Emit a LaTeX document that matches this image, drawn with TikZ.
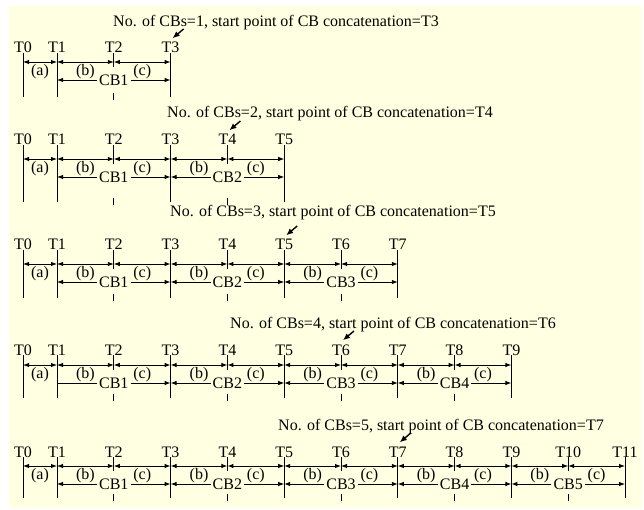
\documentclass[tikz,border=0pt]{standalone}
\usepackage{fontspec}
\setmainfont{Liberation Serif}
\usetikzlibrary{arrows.meta, calc}
\definecolor{paper}{RGB}{255,255,225}
\tikzset{
  tline/.style={line width=0.9pt},
  dimline/.style={line width=0.9pt, {Latex[length=6pt,width=4.5pt]}-{Latex[length=6pt,width=4.5pt]}},
  dimhead/.style={line width=0.9pt, -{Latex[length=6pt,width=4.5pt]}},
  plainline/.style={line width=0.9pt},
  pointer/.style={line width=1.4pt, -{Latex[length=7pt,width=6pt]}},
  tlabel/.style={anchor=base, inner sep=0pt},
  seglabel/.style={inner sep=0pt},
  cbtext/.style={inner sep=2pt},
  title/.style={anchor=base west, inner sep=0pt}
}
% #1 Pfeil links an CB1, #2 Anzahl CBs, #3 obere Reihe, #4 Grundlinie T-Beschriftung,
% #5 unteres Strichende, #6/#7 Ueberschrift
\newcommand{\cbblock}[7][dimhead]{
    \pgfmathtruncatemacro{\tlast}{2*#2+1}
    \pgfmathtruncatemacro{\tpen}{2*#2}
    \pgfmathtruncatemacro{\tstart}{#2+2}

    % Zeitpunkte T0 ... T(2n+1)
    \foreach \k in {0,...,\tlast} {
        \pgfmathsetmacro{\tpos}{\k==0 ? 23 : 0.2+56.8*\k}
        \coordinate (B#2T\k) at (\tpos,#3);
        \coordinate (B#2D\k) at (\tpos,#5);
        \node[tlabel] (B#2L\k) at (\tpos,#4) {T\k};
    }

    % Senkrechte Striche
    \foreach \k in {0,...,\tlast} {
        \pgfmathtruncatemacro{\kodd}{mod(\k,2)}
        \ifnum\k=0 \def\kodd{1}\fi
        \ifnum\kodd=1
            \draw[tline] (B#2L\k.base) -- (B#2D\k);
        \else
            \draw[tline] (B#2L\k.base) -- ([yshift=-5pt]B#2T\k);
            \draw[tline] ([yshift=4pt]B#2D\k) -- ([yshift=-3pt]B#2D\k);
        \fi
    }

    % obere Reihe (a), (b), (c)
    \foreach \k in {0,...,\tpen} {
        \pgfmathtruncatemacro{\knext}{\k+1}
        \pgfmathtruncatemacro{\kodd}{mod(\k,2)}
        \draw[dimline] (B#2T\k) -- (B#2T\knext);
        \ifnum\k=0 \def\segtext{(a)}\else\ifnum\kodd=1 \def\segtext{(b)}\else\def\segtext{(c)}\fi\fi
        \node[seglabel] (B#2S\k) at ($(B#2T\k)!0.5!(B#2T\knext)+(0,10)$) {\segtext};
    }

    % untere Reihe CB1 ... CBn
    \foreach \k in {1,3,...,\tlast} {
        \coordinate (B#2R\k) at ($(B#2T\k)+(0,18)$);
    }
    \foreach \j in {1,...,#2} {
        \pgfmathtruncatemacro{\cbmid}{2*\j}
        \pgfmathtruncatemacro{\cbleft}{2*\j-1}
        \pgfmathtruncatemacro{\cbright}{2*\j+1}
        \node[cbtext] (B#2CB\j) at ($(B#2T\cbmid)+(0,18)$) {CB\j};
        \ifnum\j=1
            \draw[#1] (B#2CB\j.west) -- (B#2R\cbleft);
        \else
            \draw[dimhead] (B#2CB\j.west) -- (B#2R\cbleft);
        \fi
        \draw[dimhead] (B#2CB\j.east) -- (B#2R\cbright);
    }

    % Ueberschrift mit Pfeil
    \node[title] (B#2title) at (#6,#7) {No. of CBs=#2, start point of CB concatenation=T\tstart};
    \coordinate (B#2P) at ($(B#2L\tstart.base)+(13,-24)$);
    \draw[pointer] (B#2P) -- ($(B#2L\tstart.north)+(2,-4)$);
}

\begin{document}
\begin{tikzpicture}[x=1pt, y=-1pt, font=\fontsize{16}{19}\selectfont]
    \useasboundingbox (0,0) rectangle (644,510);
    \fill[paper] (9,6) rectangle (642,508);

    \cbblock{1}{62}{53}{97}{113}{27}
    \cbblock{2}{159}{145}{202}{167}{118}
    \cbblock{3}{264}{250}{298}{170}{217}
    \cbblock[plainline]{4}{365}{355}{398}{230}{328}
    \cbblock{5}{466}{457}{498}{278}{430}
\end{tikzpicture}
\end{document}
